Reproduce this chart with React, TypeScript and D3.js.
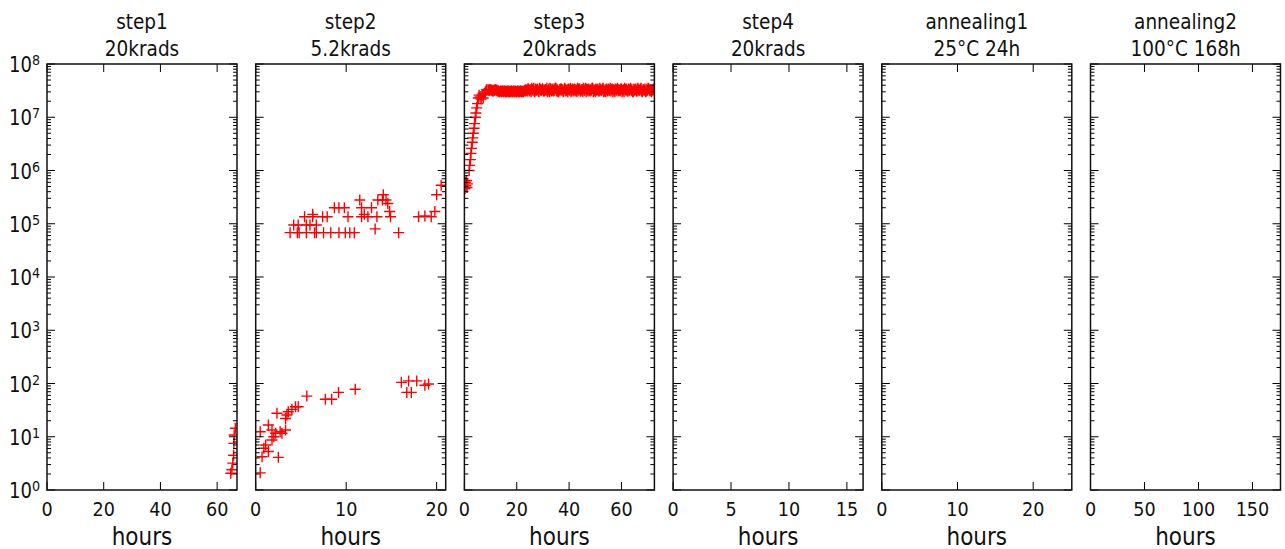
import React from "react";
import * as d3 from "d3";

// ---------- data ----------
const panelTitles = [
  ["step1", "20krads"],
  ["step2", "5.2krads"],
  ["step3", "20krads"],
  ["step4", "20krads"],
  ["annealing1", "25°C 24h"],
  ["annealing2", "100°C 168h"],
];
const xMax = [67, 21, 72.6, 16.4, 25.1, 176];
const xTicks = [
  [0, 20, 40, 60],
  [0, 10, 20],
  [0, 20, 40, 60],
  [0, 5, 10, 15],
  [0, 10, 20],
  [0, 50, 100, 150],
];
const yDecades = [0, 1, 2, 3, 4, 5, 6, 7, 8];

// step1 (hours, value)
const step1Hours = [66.4, 66.0, 65.9, 65.8, 65.5, 65.2, 64.8];
const step1Values = [14.4, 10.8, 7.5, 4.5, 3.2, 2.4, 2.06];

// step2 lower group
const step2LowHours = [0.5, 0.7, 0.9, 0.5, 1.1, 1.4, 1.4, 1.8, 1.8, 2.0, 2.2, 2.5, 2.35, 2.7, 2.9, 3.3, 3.45, 3.3, 3.6, 4.0, 4.4, 4.7, 5.65, 7.7, 8.4, 9.15, 11.0, 16.1, 16.9, 17.8, 16.7, 17.2, 18.7, 19.1];
const step2LowValues = [2.1, 4.2, 6.1, 12.4, 7.0, 5.3, 16.6, 13.4, 8.7, 10, 11.6, 4.1, 27.6, 12.4, 11.6, 13.4, 25.6, 22, 29.5, 32.7, 36.7, 36.7, 58, 50.5, 50.5, 68, 78, 105, 112, 112, 68, 68, 93, 98];
// step2 upper group
const step2HighHours = [3.8, 4.6, 4.8, 5.6, 6.5, 6.7, 7.5, 8.3, 9.2, 9.9, 10.4, 10.9, 15.8, 4.2, 4.7, 5.6, 6.0, 6.7, 5.4, 6.3, 7.4, 7.9, 10.2, 11.7, 12.4, 13.4, 14.9, 6.3, 12.0, 8.7, 9.2, 9.8, 11.7, 12.8, 11.5, 13.5, 14.0, 14.4, 14.1, 14.6, 14.8, 13.2, 18.0, 18.7, 19.4, 19.8, 20.0, 20.5];
const step2HighValues = [6.8e4, 6.8e4, 6.8e4, 6.8e4, 6.8e4, 6.8e4, 6.8e4, 6.8e4, 6.8e4, 6.8e4, 6.8e4, 6.8e4, 6.8e4, 9.5e4, 9.5e4, 9.5e4, 9.5e4, 9.5e4, 1.35e5, 1.35e5, 1.35e5, 1.35e5, 1.35e5, 1.35e5, 1.35e5, 1.35e5, 1.35e5, 1.5e5, 1.5e5, 2e5, 2e5, 2e5, 2e5, 2e5, 2.8e5, 2.8e5, 2.8e5, 2.8e5, 3.5e5, 2.4e5, 1.7e5, 8e4, 1.35e5, 1.4e5, 1.35e5, 1.7e5, 3.5e5, 5.3e5];

// step3 start + rise
const step3RiseHours = [0.2, 0.4, 0.6, 0.8, 1.0, 1.2, 1.8, 2.0, 2.3, 2.5, 2.7, 3.0, 3.2, 3.4, 3.7, 3.9, 4.2, 4.4, 4.7, 5.0, 5.3, 5.6, 6.0, 6.4, 6.8, 7.2, 7.6, 8.0, 8.4];
const step3RiseValues = [4.6e5, 6.0e5, 5.2e5, 6.5e5, 4.8e5, 5.6e5, 1.0e6, 1.25e6, 1.6e6, 2.1e6, 2.6e6, 3.4e6, 4.1e6, 5.0e6, 6.2e6, 7.6e6, 1.0e7, 1.2e7, 1.5e7, 1.8e7, 2.3e7, 2.6e7, 2.4e7, 2.2e7, 2.6e7, 2.3e7, 2.8e7, 3.0e7, 3.3e7];
// step3 plateau: logger sampled every 0.25 h from 9 h, values in units of 1e7
// (A = samples on the whole/half hour, B = samples at the quarter hours)
const step3PlateauStart = 9.0;
const step3PlateauStep = 0.5;
const step3PlateauValuesA = [
  3.3, 3.2, 3.3, 3.2, 3.1, 3.2, 3.3, 3.2,
  3.1, 3.0, 3.1, 3.1, 3.0, 3.1, 3.0, 3.1, 3.1, 3.0, 3.1, 3.0, 3.1, 3.1, 3.0, 3.1, 3.0, 3.1, 3.1, 3.0, 3.2,
  3.3, 3.1, 3.4, 3.2, 3.0, 3.3, 3.5, 3.1, 3.2, 3.4, 3.0, 3.3, 3.2, 3.4, 3.1, 3.3, 3.5, 3.2, 3.0, 3.3,
  3.4, 3.1, 3.2, 3.5, 3.3, 3.0, 3.2, 3.4, 3.3, 3.1, 3.4, 3.2, 3.0, 3.3, 3.5, 3.2, 3.1, 3.4, 3.3, 3.0,
  3.2, 3.4, 3.1, 3.3, 3.5, 3.2, 3.0, 3.3, 3.4, 3.1, 3.2, 3.5, 3.3, 3.0, 3.2, 3.4, 3.1, 3.3, 3.2, 3.5,
  3.1, 3.0, 3.3, 3.4, 3.2, 3.1, 3.4, 3.3, 3.0, 3.2, 3.5, 3.3, 3.1, 3.4, 3.2, 3.0, 3.3, 3.4, 3.1, 3.2,
  3.5, 3.3, 3.0, 3.2, 3.4, 3.1, 3.3, 3.2, 3.5, 3.0, 3.3, 3.4, 3.1, 3.2, 3.4, 3.3, 3.0, 3.2, 3.3,
];
const step3PlateauValuesB = [
  3.2, 3.3, 3.2, 3.1, 3.2, 3.3, 3.2, 3.1,
  3.0, 3.1, 3.0, 3.1, 3.1, 3.0, 3.1, 3.0, 3.0, 3.1, 3.0, 3.1, 3.0, 3.0, 3.1, 3.0, 3.1, 3.0, 3.0, 3.1, 3.1,
  3.2, 3.4, 3.1, 3.3, 3.5, 3.2, 3.0, 3.4, 3.3, 3.1, 3.5, 3.2, 3.4, 3.1, 3.3, 3.2, 3.0, 3.4, 3.5, 3.1,
  3.2, 3.4, 3.5, 3.1, 3.0, 3.3, 3.4, 3.2, 3.0, 3.5, 3.1, 3.3, 3.4, 3.2, 3.0, 3.4, 3.3, 3.1, 3.2, 3.5,
  3.4, 3.1, 3.3, 3.0, 3.2, 3.5, 3.4, 3.1, 3.2, 3.3, 3.5, 3.0, 3.2, 3.4, 3.3, 3.1, 3.5, 3.2, 3.4, 3.0,
  3.3, 3.4, 3.1, 3.2, 3.5, 3.3, 3.0, 3.2, 3.4, 3.3, 3.1, 3.2, 3.4, 3.0, 3.3, 3.5, 3.2, 3.1, 3.4, 3.3,
  3.2, 3.0, 3.4, 3.3, 3.1, 3.5, 3.2, 3.4, 3.1, 3.3, 3.2, 3.0, 3.4, 3.5, 3.2, 3.1, 3.3, 3.4, 3.2,
];

// ---------- layout ----------
const W = 1285;
const H = 549;
const TOP = 64;
const BOTTOM = 490;
const LEFT0 = 47;
const PW = 190;
const PSTEP = 208.7;
const SX = 0.88; // horizontal squeeze of glyphs
const FONT = "'DejaVu Sans', sans-serif";

type Pt = [number, number];
const zip = (a: number[], b: number[]): Pt[] => a.map((h, i) => [h, b[i]]);

const panelData: Pt[][] = [
  zip(step1Hours, step1Values),
  [...zip(step2LowHours, step2LowValues), ...zip(step2HighHours, step2HighValues)],
  [
    ...zip(step3RiseHours, step3RiseValues),
    ...step3PlateauValuesA.map((v, i) => [step3PlateauStart + i * step3PlateauStep, v * 1e7] as Pt),
    ...step3PlateauValuesB.map(
      (v, i) => [step3PlateauStart + step3PlateauStep / 2 + i * step3PlateauStep, v * 1e7] as Pt
    ),
  ],
  [],
  [],
  [],
];

const y = d3.scaleLog().domain([1, 1e8]).range([BOTTOM, TOP]);

function SText({ x, y: yy, size, anchor = "middle", children }: any) {
  return (
    <text
      transform={`translate(${x},${yy}) scale(${SX},1)`}
      textAnchor={anchor}
      fontFamily={FONT}
      fontSize={size}
      fill="#111"
    >
      {children}
    </text>
  );
}

function Panel({ i }: { i: number }) {
  const x0 = LEFT0 + i * PSTEP;
  const x = d3.scaleLinear().domain([0, xMax[i]]).range([x0, x0 + PW]);
  const minor: number[] = [];
  for (let d = 0; d < 8; d++) for (let m = 2; m <= 9; m++) minor.push(m * Math.pow(10, d));
  const clipId = `clip${i}`;
  const cx = x0 + PW / 2;
  return (
    <g>
      <defs>
        <clipPath id={clipId}>
          <rect x={x0} y={TOP} width={PW} height={BOTTOM - TOP} />
        </clipPath>
      </defs>
      {/* markers */}
      <g clipPath={`url(#${clipId})`} stroke="#ff0000" strokeWidth={1.4} fill="none">
        {panelData[i].map(([h, v], k) => (
          <path key={k} d={`M${x(h) - 5.5},${y(v)}H${x(h) + 5.5}M${x(h)},${y(v) - 5.5}V${y(v) + 5.5}`} />
        ))}
      </g>
      {/* ticks */}
      <g stroke="#000" strokeWidth={1}>
        {yDecades.map((d) => {
          const yy = y(Math.pow(10, d));
          return (
            <g key={d}>
              <line x1={x0} x2={x0 + 8} y1={yy} y2={yy} />
              <line x1={x0 + PW - 8} x2={x0 + PW} y1={yy} y2={yy} />
            </g>
          );
        })}
        {minor.map((v) => {
          const yy = y(v);
          return (
            <g key={v}>
              <line x1={x0} x2={x0 + 4} y1={yy} y2={yy} />
              <line x1={x0 + PW - 4} x2={x0 + PW} y1={yy} y2={yy} />
            </g>
          );
        })}
        {xTicks[i].map((t) => (
          <g key={t}>
            <line x1={x(t)} x2={x(t)} y1={BOTTOM} y2={BOTTOM - 8} />
            <line x1={x(t)} x2={x(t)} y1={TOP} y2={TOP + 8} />
          </g>
        ))}
      </g>
      <rect x={x0} y={TOP} width={PW} height={BOTTOM - TOP} fill="none" stroke="#111" strokeWidth={1.5} />
      {xTicks[i].map((t) => (
        <SText key={t} x={x(t)} y={516} size={20}>
          {t}
        </SText>
      ))}
      <SText x={cx} y={29} size={21}>
        {panelTitles[i][0]}
      </SText>
      <SText x={cx} y={56} size={21}>
        {panelTitles[i][1]}
      </SText>
      <SText x={cx} y={545} size={24.5}>
        hours
      </SText>
      {i === 0 &&
        yDecades.map((d) => (
          <SText key={d} x={40} y={y(Math.pow(10, d)) + 8} size={20.5} anchor="end">
            <tspan>10</tspan>
            <tspan dy={-7} fontSize={14.5}>
              {d}
            </tspan>
          </SText>
        ))}
    </g>
  );
}

export default function App() {
  return (
    <svg
      width={W}
      height={H}
      viewBox={`0 0 ${W} ${H}`}
      style={{ position: "absolute", left: 0, top: 0, background: "#fff" }}
    >
      <rect width={W} height={H} fill="#fff" />
      {panelTitles.map((_, i) => (
        <Panel key={i} i={i} />
      ))}
    </svg>
  );
}
